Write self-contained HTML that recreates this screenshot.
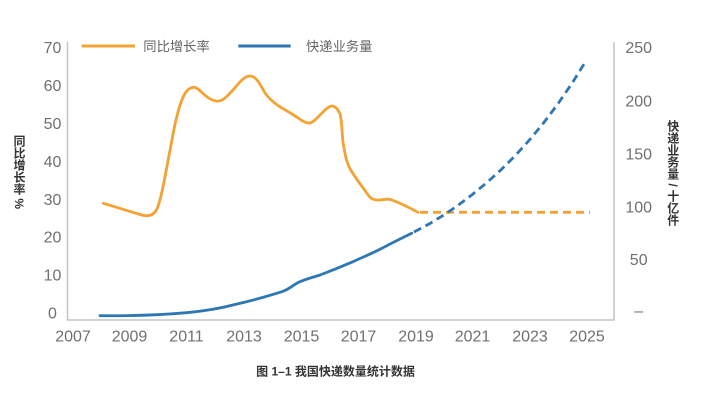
<!DOCTYPE html>
<html>
<head>
<meta charset="utf-8">
<style>
  html, body { margin:0; padding:0; background:#ffffff; }
  body { width:712px; height:403px; position:relative; overflow:hidden;
         font-family:"Liberation Sans","Noto Sans CJK SC",sans-serif; }
  svg { position:absolute; left:0; top:0; }
  .vt { position:absolute; writing-mode:vertical-rl; font-size:12px; font-weight:bold;
        color:#333; line-height:12px; font-family:"Liberation Sans","Noto Sans CJK SC",sans-serif; white-space:nowrap; }
</style>
</head>
<body>
<svg width="712" height="403" viewBox="0 0 712 403" xmlns="http://www.w3.org/2000/svg">
  <!-- axes -->
  <g stroke="#c4c4c4" stroke-width="1.5" fill="none">
    <line x1="67.5" y1="42" x2="67.5" y2="320"/>
    <line x1="614" y1="42" x2="614" y2="320"/>
    <line x1="67" y1="320" x2="614.5" y2="320"/>
  </g>

  <!-- left tick labels -->
  <g font-family="Liberation Sans, sans-serif" font-size="16" fill="#707070" text-anchor="middle">
    <text x="52.5" y="53.2">70</text>
    <text x="52.5" y="91.1">60</text>
    <text x="52.5" y="129">50</text>
    <text x="52.5" y="166.9">40</text>
    <text x="52.5" y="204.8">30</text>
    <text x="52.5" y="242.7">20</text>
    <text x="52.5" y="280.6">10</text>
    <text x="52.5" y="318.5">0</text>
  </g>

  <!-- right tick labels -->
  <g font-family="Liberation Sans, sans-serif" font-size="16" fill="#707070" text-anchor="middle">
    <text x="638.7" y="53">250</text>
    <text x="638.7" y="106.5">200</text>
    <text x="638.7" y="159.4">150</text>
    <text x="638.7" y="212.3">100</text>
    <text x="638.7" y="265.2">50</text>
    <text x="638.7" y="316">–</text>
  </g>

  <!-- x tick labels -->
  <g font-family="Liberation Sans, sans-serif" font-size="16" fill="#707070" text-anchor="middle">
    <text x="73" y="341.7">2007</text>
    <text x="129.5" y="341.7">2009</text>
    <text x="186.5" y="341.7">2011</text>
    <text x="244" y="341.7">2013</text>
    <text x="301.5" y="341.7">2015</text>
    <text x="358.5" y="341.7">2017</text>
    <text x="416" y="341.7">2019</text>
    <text x="472.5" y="341.7">2021</text>
    <text x="530" y="341.7">2023</text>
    <text x="587" y="341.7">2025</text>
  </g>

  <!-- legend -->
  <line x1="81.7" y1="46" x2="135" y2="46" stroke="#f4a233" stroke-width="3"/>
  <text x="143.3" y="51" font-family="Liberation Sans, Noto Sans CJK SC, sans-serif" font-size="13.3" fill="#666">同比增长率</text>
  <line x1="238.3" y1="46" x2="290.7" y2="46" stroke="#2e77b5" stroke-width="3"/>
  <text x="306" y="51" font-family="Liberation Sans, Noto Sans CJK SC, sans-serif" font-size="13.3" fill="#666">快递业务量</text>

  <!-- orange growth rate (solid) -->
  <path fill="none" stroke="#f4a233" stroke-width="2.8" stroke-linejoin="round" stroke-linecap="round"
    d="M103.3,203.3 L140,214.5
       C146,216.5 153,217 157,209
       C162,197 166,170 171,145
       C175,122 180,100 186,92
       C190,87 194,86 198,89
       C204,94 209,100 216,101
       C223,102 227,96 233,90
       C239,83 244,76 250,76
       C256,76 260,84 265,93
       C272,103 282,108 292,114
       C300,119 304,123 309,123
       C315,123 322,111 329,107
       C334,104 338,109 340,114
       C342,120 342,135 343,142
       C345,155 347,165 352,172
       C357,180 361,185 366,192
       C370,198 372,200 378,200
       C384,200 387,198 392,200
       C400,203 410,208 418,212.3"/>
  <!-- orange dashed -->
  <line x1="420" y1="212.3" x2="590" y2="212.3" stroke="#f4a233" stroke-width="2.8" stroke-dasharray="8,5"/>

  <!-- blue express volume (solid) -->
  <path fill="none" stroke="#2e77b5" stroke-width="2.8" stroke-linejoin="round" stroke-linecap="round"
    d="M100,315.7 C130,316 160,315 186.7,312.7
       C205,311 222,308 237,304
       C250,301 265,297 282,291.7
       C290,289 294,284 300,281.7
       C306,279 312,277.5 320,275
       C332,270.5 343,266 353,261.7
       C363,257 372,253.5 380,249.3
       C390,244 400,239 411.7,233.3"/>
  <!-- blue dashed projection -->
  <polyline fill="none" stroke="#2e77b5" stroke-width="2.8" stroke-dasharray="8,5" stroke-linejoin="round"
    points="414,232 429.3,223.9 443.6,215.1 457.9,205.4 472.1,194.7 486.4,183 500.7,170.1 515,155.9 529.3,140.2 543.6,122.9 557.9,103.9 572.2,83 586.5,60"/>

  <!-- caption -->
  <text x="335.5" y="375.5" text-anchor="middle" font-family="Liberation Sans, Noto Sans CJK SC, sans-serif" font-size="12" font-weight="bold" fill="#333">图 1–1 我国快递数量统计数据</text>
</svg>

<div class="vt" style="left:13px; top:135px;">同比增长率 %</div>
<div class="vt" style="left:666.7px; top:120px;">快递业务量 / 十亿件</div>
</body>
</html>
